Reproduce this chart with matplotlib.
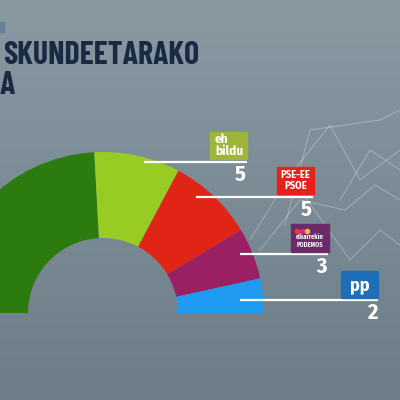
import numpy as np
import matplotlib.pyplot as plt

# seats per party (left to right around the half circle)
parties = ['EAJ-PNV', 'EH Bildu', 'PSE-EE', 'Elkarrekin Podemos', 'PP']
seats = [14, 5, 5, 3, 2]
colors = ['#2b7b0f', '#98cc22', '#e02416', '#9b1f63', '#1f9cf2']
title_lines = ['SKUNDEETARAKO', 'A']

fig = plt.figure(figsize=(4, 4), dpi=100)
ax = fig.add_axes([0, 0, 1, 1])

# background gradient
grad = np.linspace(0, 1, 256).reshape(-1, 1)
bg = plt.matplotlib.colors.LinearSegmentedColormap.from_list('bg', ['#8999a2', '#6d7e89'])
ax.imshow(grad, cmap=bg, extent=[0, 400, -400, 0], aspect='auto', zorder=0)

# faint decorative network lines in the background
deco = [
    [(250, 240), (290, 175), (330, 125), (360, 180), (400, 150)],
    [(260, 250), (300, 200), (345, 210), (375, 185), (400, 200)],
    [(285, 225), (310, 130), (380, 120), (400, 110)],
    [(300, 190), (350, 260), (380, 230), (400, 245)],
    [(340, 200), (370, 150), (400, 170)],
]
for pts in deco:
    xs, ys = zip(*pts)
    ax.plot(xs, [-v for v in ys], color='white', lw=0.7, alpha=0.3, zorder=1)

# semicircle: pad with an invisible half
vals = seats + [sum(seats)]
wedges, _ = ax.pie(vals, colors=colors + ['none'], startangle=180, counterclock=False,
                   center=(103, -313), radius=161,
                   wedgeprops=dict(width=86, linewidth=0))
for w in wedges:
    w.set_zorder(2)

# label rows: line start, line end, line y, logo box
lines = [(144, 247, 162), (196, 313, 197), (240, 328, 254), (240, 378, 300)]
boxes = [(210, 132, 37, 27), (277, 167, 37, 27), (291, 224, 38, 28), (341, 271, 37, 27)]
box_colors = ['#9cb53a', '#e3231b', '#6c2a6b', '#1f6fb8']
box_texts = ['eh\nbildu', 'PSE-EE\nPSOE', 'elkarrekin\nPODEMOS', 'pp']
fnt = ['Fira Sans Condensed', 'DejaVu Sans']

for (x0, x1, y), (bx, by, bw, bh), bc, bt, n in zip(lines, boxes, box_colors, box_texts, seats[1:]):
    ax.plot([x0, x1], [-y, -y], color='white', lw=1.6, zorder=3, solid_capstyle='butt')
    ax.add_patch(plt.Rectangle((bx, -by - bh), bw, bh, color=bc, zorder=3))
    if bt == 'eh\nbildu':
        ax.text(bx + 5, -by - bh / 2, bt, color='white', fontsize=9.5, fontweight='bold',
                family=fnt, ha='left', va='center', linespacing=0.9, zorder=4)
    elif bt == 'pp':
        ax.text(bx + bw / 2, -by - bh / 2 - 1, bt, color='white', fontsize=13, fontweight='bold',
                family=fnt, ha='center', va='center', zorder=4)
    elif bt.startswith('elk'):
        ax.text(bx + bw / 2, -by - bh / 2 - 3, bt, color='white', fontsize=4.6, fontweight='bold',
                family=fnt, ha='center', va='center', linespacing=1.1, zorder=4)
        for i, dc in enumerate(['#e8402e', '#d6257a', '#e8c230']):
            ax.scatter(bx + 6 + i * 5, -by - 7, s=9, color=dc, zorder=4)
    else:
        ax.text(bx + bw / 2, -by - bh / 2, bt, color='white', fontsize=7.5, fontweight='bold',
                family=fnt, ha='center', va='center', linespacing=1.0, zorder=4)
    ax.text(x1 - 1, -y - 13, str(n), color='white', fontsize=16, fontweight='bold',
            family=fnt, ha='right', va='center', zorder=4)

# title
ax.add_patch(plt.Rectangle((0, -32), 4, 10, color='#687f95', zorder=3))
tfnt = ['Barlow Condensed', 'DejaVu Sans']
ax.text(3, -56, title_lines[0], color='#1b2a44', fontsize=23, fontweight='bold',
        family=tfnt, ha='left', va='center', zorder=4)
ax.text(0, -86, title_lines[1], color='#1b2a44', fontsize=23, fontweight='bold',
        family=tfnt, ha='left', va='center', zorder=4)

ax.set_xlim(0, 400)
ax.set_ylim(-400, 0)
ax.set_aspect('auto')
ax.axis('off')

fig.savefig('out.png', dpi=100)
